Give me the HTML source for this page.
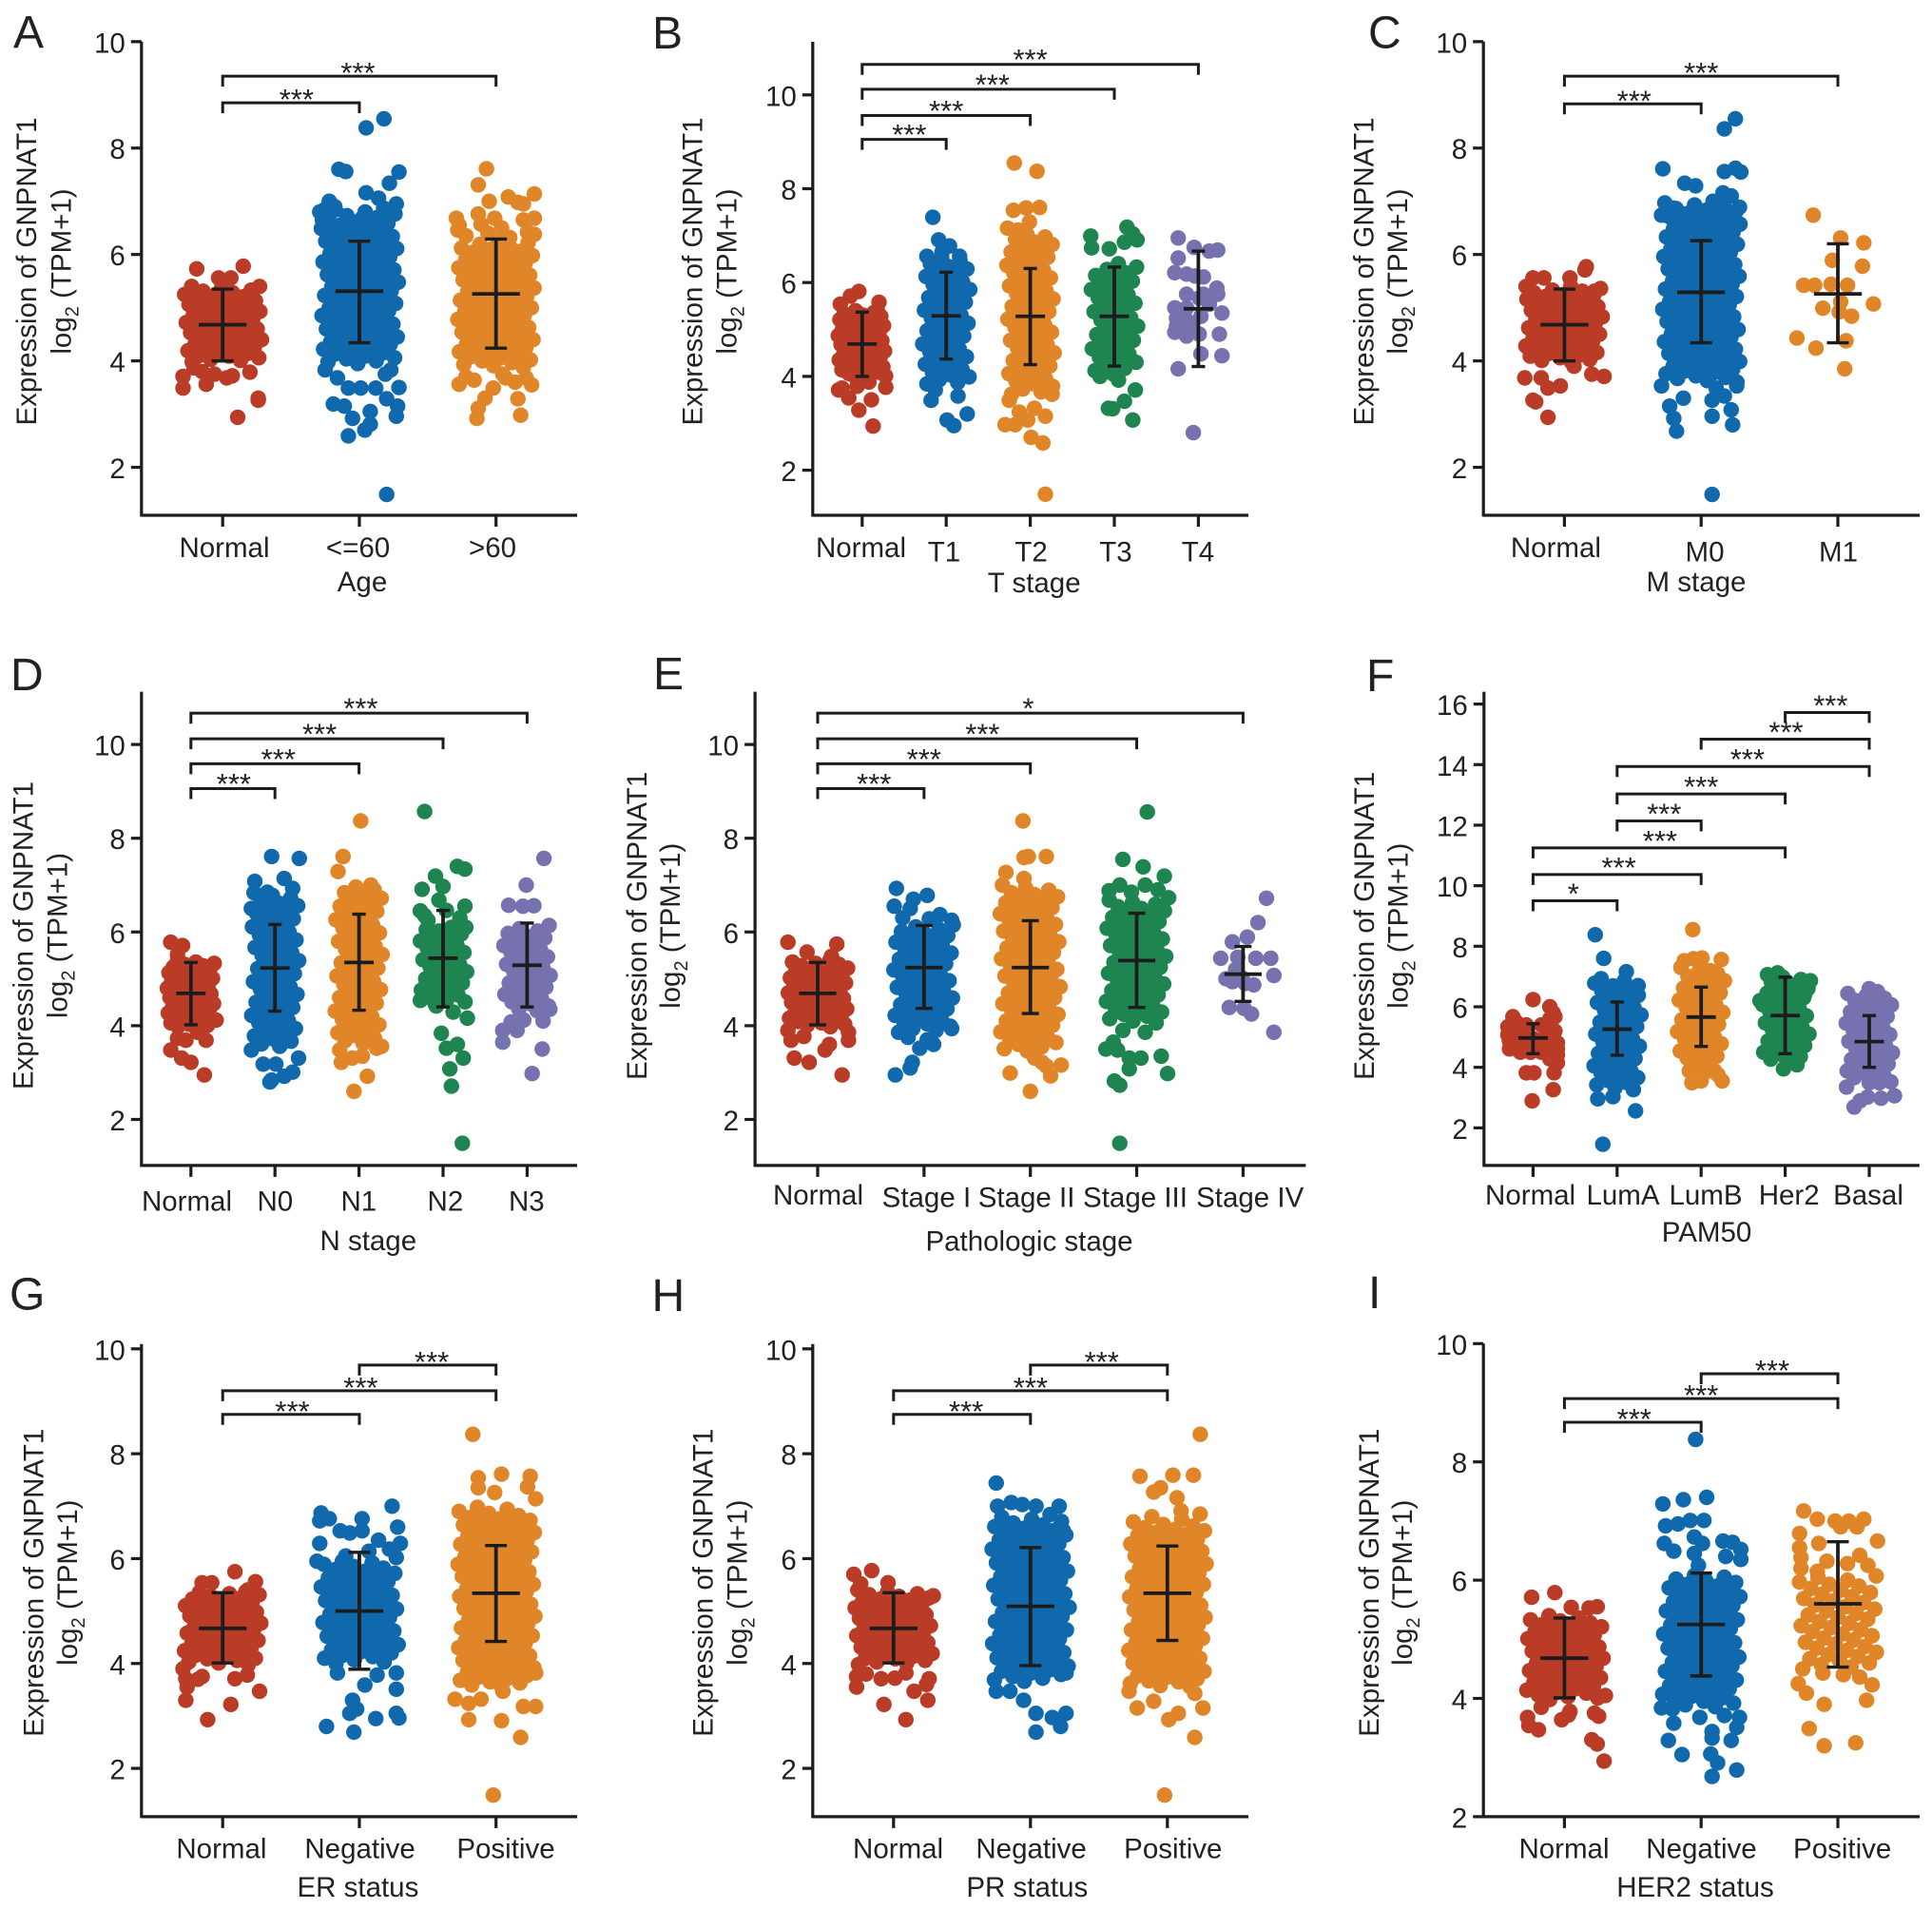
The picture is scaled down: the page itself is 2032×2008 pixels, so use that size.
<!DOCTYPE html>
<html lang="en">
<head>
<meta charset="utf-8">
<title>GNPNAT1 expression by clinical subgroup</title>
<style>
html,body{margin:0;padding:0;background:#fff}
svg{display:block}
text{font-family:"Liberation Sans",Arial,sans-serif;fill:#222}
</style>
</head>
<body>
<svg id="figure" xmlns="http://www.w3.org/2000/svg" width="2032" height="2008" viewBox="0 0 2032 2008"></svg>
<script>
// Plain numbers: samples (dense regions estimated); [value, offset]: individually located point, offset in category units.
const normalCore=[3.98,4.01,4.03,4.06,4.09,4.1,4.14,4.16,4.19,4.2,4.24,4.27,4.28,4.31,4.35,4.36,4.4,4.42,4.44,4.47,4.5,4.53,4.54,4.58,4.6,4.62,4.65,4.68,4.7,4.72,4.76,4.77,4.8,4.83,4.86,4.87,4.91,4.93,4.95,4.98,5.01,5.02,5.06,5.08,5.1,5.13,5.16,5.17,5.21,5.23,5.25,5.28,5.31,5.33,5.36,5.4];

const aCats=['Normal','<=60','>60'];
const aNormalExtra=[[5.73,-.19],[5.78,.15],[5.4,.27],[5.56,-.03],[5.56,.06],[5.5,0],[3.71,-.29],[3.49,-.29],[3.56,-.12],[3.68,.03],[3.72,.07],[3.79,.2],[3.26,.26],[3.3,.26],[2.94,.11],[3.75,-.06],[3.87,-.21],[3.8,-.15]];
const aYoung=[3.95,3.98,4,4.04,4.06,4.09,4.13,4.15,4.18,4.22,4.24,4.27,4.31,4.33,4.36,4.4,4.42,4.45,4.49,4.51,4.54,4.58,4.6,4.63,4.67,4.69,4.72,4.76,4.78,4.81,4.85,4.87,4.9,4.94,4.96,4.99,5.03,5.05,5.08,5.12,5.14,5.17,5.21,5.23,5.26,5.3,5.32,5.35,5.39,5.41,5.44,5.48,5.5,5.53,5.57,5.59,5.62,5.66,5.68,5.71,5.75,5.77,5.8,5.84,5.86,5.89,5.93,5.95,5.98,6.02,6.04,6.07,6.11,6.13,6.16,6.2,6.22,6.25,6.29,6.31,6.34,6.38,6.4,6.43,6.47,6.49,6.52,6.55,6.59,6.62,6.66,6.69,6.73,6.76,6.8,6.84,6.87,[8.38,.05],[8.55,.18],[7.6,-.15],[7.56,-.1],[7.55,.29],[7.34,.22],[7.16,.05],[7,-.22],[7.06,.14],[6.95,.27],[6.8,-.29],[6.68,.02],[6.68,.08],[6.85,-.25],[6.9,-.18],[6.65,-.27],[6.8,.25],[6.62,.18],[6.6,-.1],[3.83,-.25],[3.68,-.16],[3.49,-.08],[3.49,.01],[3.49,.12],[3.5,.29],[3.75,.19],[3.83,.23],[3.29,.2],[3.19,-.19],[3.15,-.11],[2.92,-.05],[3.05,.08],[3.15,.28],[2.96,.27],[2.59,-.08],[2.7,.04],[2.81,.08],[1.49,.2]];
const aOld=[3.88,3.91,3.93,3.97,4,4.02,4.06,4.08,4.11,4.14,4.17,4.2,4.22,4.26,4.28,4.31,4.35,4.37,4.4,4.43,4.45,4.49,4.51,4.54,4.57,4.6,4.63,4.65,4.69,4.71,4.74,4.78,4.8,4.83,4.86,4.89,4.92,4.94,4.98,5,5.03,5.06,5.09,5.12,5.14,5.18,5.2,5.23,5.27,5.29,5.32,5.35,5.37,5.41,5.43,5.46,5.49,5.52,5.55,5.57,5.61,5.63,5.66,5.7,5.72,5.75,5.78,5.81,5.84,5.86,5.9,5.92,5.95,5.98,6.01,6.04,6.06,6.1,6.12,6.15,6.19,6.22,6.25,[7.61,-.07],[7.31,-.13],[7,-.05],[7.08,.09],[7.14,.28],[6.95,.2],[6.98,.16],[6.68,.28],[6.65,.2],[6.68,-.29],[6.76,-.13],[6.68,-.01],[6.46,-.28],[6.57,-.11],[6.5,.04],[6.42,.23],[6.35,-.22],[6.32,.1],[6.55,-.27],[6.4,-.06],[6.38,.28],[3.56,-.27],[3.64,-.16],[3.49,-.02],[3.6,.14],[3.55,.26],[3.7,-.22],[3.75,.05],[3.68,.22],[3.3,-.08],[3.11,-.13],[2.92,-.14],[3.29,.16],[2.98,.18],[3.68,.07]];
const aMeans=[4.68,5.31,5.26];
const aLows=[4,4.34,4.24];
const aHighs=[5.35,6.25,6.29];
const aBrackets=[[0,1,8.85,'***',.54],[0,2,9.35,'***',.99]];

const bCats=['Normal','T1','T2','T3','T4'];
const bNormalExtra=[[5.81,-.04],[5.71,-.14],[5.58,.2],[5.54,-.26],[5.41,.18],[3.75,-.24],[3.77,.28],[3.88,.08],[3.54,-.16],[3.5,.11],[3.28,-.04],[2.94,.13],[3.79,-.06],[3.71,-.28]];
const bT1=[3.87,3.93,3.99,4.03,4.09,4.15,4.2,4.26,4.31,4.36,4.42,4.48,4.53,4.58,4.64,4.69,4.75,4.81,4.86,4.91,4.97,5.03,5.08,5.13,5.19,5.24,5.3,5.36,5.41,5.46,5.52,5.58,5.63,5.68,5.74,5.79,5.85,5.91,5.96,6.01,6.07,6.13,6.18,6.23,6.29,6.34,6.4,6.46,6.52,[7.39,-.16],[6.91,-.09],[6.78,.04],[6.56,-.23],[6.56,.16],[6.65,-.05],[3.49,-.18],[3.58,.14],[3.84,-.23],[3.71,-.13],[3.07,.01],[2.95,.09],[3.2,.25]];
const bT2=[3.62,3.67,3.73,3.79,3.84,3.9,3.95,4,4.06,4.12,4.17,4.22,4.28,4.34,4.39,4.45,4.5,4.55,4.61,4.67,4.72,4.77,4.83,4.89,4.94,5,5.05,5.1,5.16,5.22,5.27,5.32,5.38,5.44,5.49,5.55,5.6,5.65,5.71,5.77,5.82,5.87,5.93,5.99,6.04,6.1,6.15,6.2,6.26,6.32,6.37,6.42,6.48,6.54,6.59,6.65,6.7,6.75,6.81,6.87,6.92,6.97,7.03,[8.55,-.19],[8.37,.08],[7.54,-.2],[7.59,-.05],[7.6,.11],[7.29,-.01],[7.16,-.27],[7.12,-.15],[3.49,-.25],[3.62,.26],[3.24,-.13],[3.15,.18],[2.97,-.3],[2.97,-.18],[3.07,-.03],[2.7,.01],[2.58,.15],[1.49,.18],[3.32,.05]];
const bT3=[4.05,4.12,4.17,4.23,4.3,4.35,4.41,4.48,4.53,4.59,4.66,4.71,4.77,4.84,4.89,4.95,5.02,5.07,5.13,5.2,5.25,5.31,5.38,5.43,5.49,5.56,5.61,5.67,5.74,5.79,5.85,5.92,5.97,6.03,6.1,6.15,6.21,6.28,6.33,6.4,[6.99,-.28],[7.18,.15],[6.91,.27],[6.86,.12],[6.72,-.06],[6.74,-.27],[7.04,.22],[3.92,.05],[3.71,.25],[3.47,.12],[3.32,-.07],[3.31,-.02],[3.07,.22],[4,-.17]];
const bT4=[[6.95,-.24],[6.75,-.05],[6.69,.23],[6.67,.13],[6.52,-.24],[6.21,-.28],[6.18,-.14],[6.14,-.04],[6.12,.06],[5.88,.22],[5.75,-.14],[5.75,.23],[5.67,.01],[5.46,-.28],[5.46,-.14],[5.54,.13],[5.35,.28],[5.24,-.26],[5.2,-.14],[5.28,.03],[4.94,-.28],[4.86,-.14],[4.9,.01],[4.9,.25],[4.48,.03],[4.44,.28],[4.16,-.24],[2.8,-.06],[5.32,-.21],[5.07,-.26],[5.07,-.09],[5.75,.06]];
const bMeans=[4.69,5.29,5.28,5.28,5.44];
const bLows=[4,4.37,4.25,4.22,4.21];
const bHighs=[5.37,6.22,6.3,6.33,6.67];
const bBrackets=[[0,1,9.05,'***',.56],[0,2,9.56,'***',1],[0,3,10.12,'***',1.55],[0,4,10.65,'***',2]];

const cCats=['Normal','M0','M1'];
const cNormalExtra=[[5.77,.16],[5.71,.15],[5.56,.04],[5.56,-.15],[5.56,-.23],[5.4,-.28],[5.31,.22],[3.68,-.29],[3.71,.29],[3.75,.2],[3.9,.07],[3.49,-.12],[3.53,-.03],[3.68,-.17],[3.26,-.23],[3.23,-.21],[2.94,-.12]];
const cM0=[3.6,3.63,3.67,3.69,3.72,3.76,3.78,3.81,3.84,3.87,3.9,3.93,3.96,3.99,4.01,4.05,4.07,4.1,4.14,4.16,4.19,4.22,4.25,4.28,4.3,4.34,4.36,4.39,4.43,4.45,4.48,4.51,4.54,4.57,4.59,4.63,4.65,4.68,4.72,4.74,4.77,4.8,4.83,4.86,4.88,4.92,4.94,4.97,5.01,5.03,5.06,5.09,5.12,5.15,5.17,5.21,5.23,5.26,5.3,5.32,5.35,5.38,5.41,5.44,5.46,5.5,5.52,5.55,5.59,5.61,5.64,5.67,5.7,5.73,5.75,5.79,5.81,5.84,5.88,5.9,5.93,5.96,5.99,6.02,6.04,6.08,6.1,6.13,6.17,6.19,6.22,6.25,6.28,6.31,6.33,6.37,6.39,6.42,6.46,6.48,6.51,6.54,6.57,6.6,6.62,6.66,6.68,6.71,6.75,6.77,6.8,6.83,6.86,6.9,6.93,6.97,7,[8.55,.25],[8.36,.17],[7.61,-.28],[7.56,.17],[7.62,.25],[7.55,.29],[7.34,-.12],[7.29,-.04],[7.16,.16],[7.1,.22],[6.74,-.29],[6.89,.28],[6.87,-.2],[3.53,-.29],[3.15,-.23],[2.92,-.2],[2.68,-.18],[3.3,-.13],[3.26,.08],[2.96,.08],[3.08,.22],[2.8,.23],[3.53,.26],[1.49,.08],[3.34,.17],[3.49,.11]];
const cM1=[[6.74,-.18],[6.31,.02],[6.22,.19],[5.89,-.04],[5.78,.18],[5.42,-.25],[5.42,-.17],[5.44,-.05],[5.42,.07],[4.99,-.11],[5.11,.02],[5.07,.26],[4.92,.01],[4.84,.1],[4.43,-.3],[4.24,-.16],[4.38,.06],[3.85,.05]];
const cMeans=[4.68,5.29,5.26];
const cLows=[4,4.34,4.34];
const cHighs=[5.35,6.26,6.2];
const cBrackets=[[0,1,8.83,'***',.51],[0,2,9.35,'***',1]];

const dCats=['Normal','N0','N1','N2','N3'];
const dNormalExtra=[[5.78,-.24],[5.71,-.1],[5.52,-.16],[3.48,-.24],[3.31,-.11],[3.22,0],[2.95,.16],[3.69,.18],[3.86,.08],[4.12,.3],[3.73,-.16],[3.69,-.06]];
const dN0=[3.56,3.61,3.67,3.72,3.78,3.83,3.89,3.94,4,4.06,4.11,4.17,4.22,4.28,4.33,4.39,4.44,4.5,4.56,4.61,4.67,4.72,4.78,4.83,4.89,4.94,5,5.06,5.11,5.17,5.22,5.28,5.33,5.39,5.44,5.5,5.56,5.61,5.67,5.72,5.78,5.83,5.89,5.94,6,6.06,6.11,6.17,6.22,6.28,6.33,6.39,6.44,6.5,6.56,6.61,6.67,6.72,6.78,6.84,[7.61,-.04],[7.57,.29],[7.08,-.24],[7.14,.11],[6.93,.21],[6.85,-.09],[6.5,-.28],[3.48,-.28],[3.18,-.14],[3.18,.01],[3.31,.28],[2.84,-.04],[2.8,-.06],[2.92,.11],[3.01,.21]];
const dN1=[3.56,3.62,3.68,3.73,3.79,3.85,3.91,3.96,4.02,4.08,4.14,4.19,4.25,4.31,4.37,4.42,4.48,4.54,4.6,4.65,4.71,4.77,4.83,4.88,4.94,5,5.06,5.11,5.17,5.23,5.29,5.34,5.4,5.46,5.52,5.57,5.63,5.69,5.75,5.8,5.86,5.92,5.98,6.03,6.09,6.15,6.21,6.26,6.32,6.38,6.44,6.49,6.55,6.61,6.67,6.72,6.78,6.84,6.9,6.96,[8.37,.02],[7.61,-.19],[7.29,-.25],[7,.14],[3.22,-.21],[3.31,-.08],[3.35,.04],[3.52,.21],[2.92,.1],[2.6,-.06],[3.48,-.23]];
const dN2=[4.46,4.51,4.55,4.61,4.66,4.7,4.76,4.81,4.85,4.91,4.96,5,5.06,5.11,5.15,5.21,5.26,5.3,5.36,5.41,5.45,5.51,5.56,5.6,5.66,5.71,5.75,5.81,5.86,5.9,5.96,[8.57,-.22],[7.4,.17],[7.34,.26],[7.19,-.09],[6.91,-.25],[6.97,0],[6.68,-.05],[6.55,.26],[6.45,-.27],[6.46,.04],[6.25,-.18],[6.1,.1],[6.3,.2],[6.35,-.22],[6.05,-.2],[6.1,.27],[6.02,-.05],[4.29,.12],[4.16,.29],[3.84,-.02],[3.6,.17],[3.52,.04],[3.31,.24],[3.08,.08],[2.71,.1],[1.49,.23],[4.54,-.27],[4.42,-.08]];
const dN3=[4.32,4.36,4.42,4.47,4.51,4.57,4.62,4.67,4.71,4.77,4.82,4.87,4.91,4.97,5.02,5.07,5.11,5.17,5.22,5.27,5.31,5.37,5.42,5.47,5.51,5.57,5.62,5.67,5.71,5.77,5.82,5.87,5.91,5.97,6.02,6.07,6.14,[7.57,.2],[7,-.01],[6.57,-.22],[6.56,.08],[6.55,-.05],[3.65,-.29],[3.9,-.12],[4.08,-.19],[4.12,-.04],[4.1,.19],[4.35,.27],[3.5,.18],[2.98,.06],[3.9,-.29]];
const dMeans=[4.69,5.23,5.35,5.44,5.29];
const dLows=[4.02,4.31,4.33,4.4,4.4];
const dHighs=[5.35,6.16,6.38,6.46,6.19];
const dBrackets=[[0,1,9.06,'***',.51],[0,2,9.59,'***',1.04],[0,3,10.12,'***',1.53],[0,4,10.67,'***',2.02]];

const eCats=['Normal','Stage I','Stage II','Stage III','Stage IV'];
const eNormalExtra=[[5.78,-.28],[5.74,.18],[5.57,-.1],[5.48,.13],[3.9,-.28],[3.69,-.25],[3.77,-.13],[3.86,.29],[3.69,.29],[3.6,.11],[3.48,.07],[3.31,-.22],[3.22,-.08],[2.95,.23]];
const eStage1=[3.86,3.9,3.94,3.99,4.04,4.08,4.13,4.17,4.22,4.27,4.31,4.36,4.4,4.45,4.5,4.54,4.59,4.63,4.68,4.73,4.77,4.82,4.86,4.91,4.96,5,5.05,5.09,5.14,5.19,5.23,5.28,5.32,5.37,5.42,5.46,5.51,5.55,5.6,5.65,5.69,5.74,5.78,5.83,5.88,5.92,5.97,6.01,6.06,6.11,6.15,[6.93,-.26],[6.78,.03],[6.7,-.1],[6.55,-.28],[6.5,-.13],[6.37,.15],[6.25,.26],[6.3,-.2],[6.28,.05],[2.95,-.27],[3.1,-.13],[3.22,-.11],[3.52,-.04],[3.6,.09],[3.94,.26],[3.7,.03],[3.75,-.15]];
const eStage2=[3.46,3.51,3.55,3.6,3.64,3.69,3.74,3.78,3.83,3.87,3.92,3.96,4.01,4.06,4.1,4.15,4.19,4.24,4.28,4.33,4.38,4.42,4.47,4.51,4.56,4.6,4.65,4.7,4.74,4.79,4.83,4.88,4.92,4.97,5.02,5.06,5.11,5.15,5.2,5.24,5.29,5.34,5.38,5.43,5.47,5.52,5.56,5.61,5.66,5.7,5.75,5.79,5.84,5.88,5.93,5.98,6.02,6.07,6.11,6.16,6.2,6.25,6.3,6.34,6.39,6.43,6.48,6.52,6.57,6.62,6.66,6.71,6.75,6.8,6.84,6.89,6.94,7,[8.37,-.07],[7.59,-.06],[7.61,-.02],[7.61,.15],[7.27,-.23],[7.14,-.06],[2.99,-.19],[3.16,.29],[2.93,.19],[2.6,0],[3.22,.11],[3.31,.04],[3.14,.15]];
const eStage3=[4.06,4.1,4.15,4.2,4.24,4.29,4.33,4.38,4.43,4.47,4.52,4.56,4.61,4.66,4.7,4.75,4.79,4.84,4.89,4.93,4.98,5.02,5.07,5.12,5.16,5.21,5.25,5.3,5.35,5.39,5.44,5.48,5.53,5.58,5.62,5.67,5.71,5.76,5.81,5.85,5.9,5.94,5.99,6.04,6.08,6.13,6.17,6.22,6.27,6.31,6.36,6.4,6.45,6.5,6.54,6.59,6.63,6.68,[8.56,.1],[7.55,-.13],[7.39,.06],[7.19,.26],[6.88,-.26],[6.73,.3],[7,-.16],[7,.08],[6.85,-.05],[6.9,.2],[3.9,-.13],[3.86,.08],[3.65,-.22],[3.5,-.29],[3.48,-.18],[3.31,-.07],[3.31,.04],[3.35,.23],[3.08,-.07],[2.98,.29],[2.82,-.21],[2.73,-.16],[1.49,-.16]];
const eStage4=[[6.72,.22],[6.2,.14],[5.89,.04],[5.79,-.1],[5.44,-.21],[5.46,-.05],[5.44,.12],[5.44,.26],[5.07,.29],[5.2,-.07],[4.94,-.1],[4.87,.1],[5.02,-.01],[4.39,-.13],[4.37,.01],[4.25,.08],[3.86,.29],[5,-.16],[4.9,.02]];
const eMeans=[4.69,5.24,5.24,5.39,5.1];
const eLows=[4.02,4.37,4.26,4.39,4.52];
const eHighs=[5.35,6.14,6.24,6.4,5.69];
const eBrackets=[[0,1,9.06,'***',.53],[0,2,9.59,'***',1],[0,3,10.12,'***',1.55],[0,4,10.67,'*',1.98]];

const fCats=['Normal','LumA','LumB','Her2','Basal'];
const fNormal=[[6.24,0],[6,.2],[5.67,-.24],[5.67,.26],[5.34,-.3],[5.2,-.12],[5.4,.1],[5.2,.26],[4.88,-.28],[5.01,-.15],[4.94,.01],[5.01,.15],[4.81,.29],[4.61,-.28],[4.68,-.1],[4.68,.06],[4.41,.29],[4.15,.29],[3.82,-.08],[3.82,.01],[3.82,.25],[3.26,.24],[2.89,-.01],[5.6,.2],[4.68,.2],[4.68,-.21],[4.61,.29],[4.28,.2],[5.14,-.21],[4.68,-.03],[5.2,.2],[4.88,.22],[5.4,-.08],[5.07,-.3],[5.5,-.2],[5.8,.24],[4.5,-.03],[4.5,.1],[4.5,-.15]];
const fLumA=[3.26,3.33,3.42,3.5,3.57,3.66,3.74,3.81,3.9,3.98,4.05,4.14,4.22,4.29,4.38,4.46,4.53,4.62,4.7,4.77,4.86,4.94,5.01,5.1,5.18,5.25,5.34,5.42,5.49,5.58,5.66,5.73,5.82,5.9,5.97,6.06,6.14,6.21,6.3,6.38,6.45,6.54,6.62,6.69,6.78,6.85,[8.38,-.26],[7.6,-.16],[7.16,.11],[6.7,.25],[6.93,-.19],[2.96,-.23],[3.03,-.05],[2.56,.22],[1.46,-.17]];
const fLumB=[4.3,4.37,4.46,4.54,4.61,4.7,4.78,4.85,4.94,5.02,5.09,5.18,5.26,5.33,5.42,5.5,5.57,5.66,5.74,5.81,5.9,5.98,6.05,6.14,6.22,6.29,6.38,6.46,6.53,6.62,6.7,6.77,6.86,6.94,7.01,7.1,7.18,7.3,[8.55,-.1],[7.52,-.2],[7.61,.01],[7.56,.24],[7.59,-.09],[7.19,.11],[3.49,-.11],[3.55,0],[3.55,.25],[3.88,.16],[3.88,-.14],[4.02,-.05],[4.15,.09],[3.75,.2],[3.88,.09]];
const fHer2=[4.2,4.27,4.35,4.42,4.5,4.57,4.65,4.72,4.8,4.87,4.95,5.02,5.1,5.17,5.25,5.32,5.4,5.47,5.55,5.62,5.7,5.77,5.85,5.92,6,6.07,6.15,6.22,6.3,6.37,6.45,6.52,6.6,6.67,6.75,6.82,6.9,6.98,[7.06,-.21],[6.86,.3],[7.12,-.09],[6.6,.27],[6.2,-.3],[3.95,-.02],[4.08,.14],[6.4,.23]];
const fBasal=[3.52,3.58,3.66,3.73,3.81,3.88,3.96,4.03,4.11,4.18,4.26,4.33,4.41,4.48,4.56,4.63,4.71,4.78,4.86,4.93,5.01,5.08,5.16,5.23,5.31,5.38,5.46,5.53,5.61,5.68,5.76,5.83,5.91,5.98,6.06,6.13,6.21,6.28,6.36,6.44,6.5,[6.6,0],[3.35,-.27],[2.89,-.11],[2.69,-.18],[3.06,.3],[2.98,.14],[3.02,-.02],[3.49,0],[3.49,.12]];
const fMeans=[4.97,5.26,5.66,5.71,4.85];
const fLows=[4.45,4.4,4.69,4.45,4];
const fHighs=[5.44,6.16,6.65,6.98,5.71];
const fBrackets=[[0,1,9.5,'*',.48],[0,2,10.37,'***',1.02],[0,3,11.25,'***',1.51],[1,2,12.14,'***',1.56],[1,3,13.03,'***',2],[1,4,13.94,'***',2.55],[2,4,14.84,'***',3.01],[3,4,15.72,'***',3.54]];

const gCats=['Normal','Negative','Positive'];
const gNormalExtra=[[5.75,.09],[5.56,.24],[5.54,-.15],[5.54,-.08],[5.37,.17],[3.9,-.29],[3.71,-.27],[3.55,-.26],[3.3,-.27],[3.75,-.15],[3.71,.09],[3.78,.18],[3.47,.27],[3.22,.06],[2.93,-.11],[3.7,-.18]];
const gNegative=[4,4.03,4.07,4.1,4.13,4.16,4.2,4.23,4.26,4.29,4.33,4.36,4.39,4.42,4.46,4.49,4.52,4.55,4.59,4.62,4.65,4.68,4.72,4.75,4.78,4.81,4.85,4.88,4.91,4.94,4.98,5.01,5.04,5.07,5.11,5.14,5.17,5.2,5.24,5.27,5.3,5.33,5.37,5.4,5.43,5.46,5.5,5.53,5.56,5.59,5.63,5.66,5.69,5.72,5.76,5.79,5.82,5.85,5.89,5.92,5.95,[6.87,-.28],[6.76,-.22],[6.72,-.29],[7,.24],[6.76,.02],[6.53,.02],[6.6,.28],[6.53,-.14],[6.49,-.07],[6.29,-.29],[6.35,.14],[6.29,.3],[5.95,-.31],[6.18,.22],[6.02,.27],[6.14,.07],[6.05,-.1],[3.82,-.16],[3.59,.04],[3.78,.13],[3.82,.27],[3.51,.27],[3.3,-.05],[3.13,-.02],[3.05,-.07],[2.95,.12],[3.05,.27],[2.96,.29],[2.8,-.24],[2.69,-.04]];
const gPositive=[3.56,3.59,3.63,3.65,3.68,3.72,3.74,3.77,3.8,3.83,3.86,3.89,3.92,3.95,3.97,4.01,4.03,4.06,4.1,4.12,4.15,4.18,4.21,4.24,4.26,4.3,4.32,4.35,4.39,4.41,4.44,4.47,4.5,4.53,4.55,4.59,4.61,4.64,4.68,4.7,4.73,4.76,4.79,4.82,4.84,4.88,4.9,4.93,4.97,4.99,5.02,5.05,5.08,5.11,5.13,5.17,5.19,5.22,5.26,5.28,5.31,5.34,5.37,5.4,5.42,5.46,5.48,5.51,5.55,5.57,5.6,5.63,5.66,5.69,5.71,5.75,5.77,5.8,5.84,5.86,5.89,5.92,5.95,5.98,6,6.04,6.06,6.09,6.13,6.15,6.18,6.21,6.24,6.27,6.29,6.33,6.35,6.38,6.42,6.44,6.47,6.5,6.53,6.56,6.58,6.62,6.64,6.67,6.71,6.73,6.76,6.79,6.82,6.86,6.9,6.94,6.98,[8.37,-.17],[7.54,-.13],[7.61,.04],[7.57,.25],[7.35,-.13],[7.37,.23],[7.26,-.01],[7.14,.29],[3.32,-.3],[3.24,-.2],[2.93,-.2],[3.32,-.11],[2.91,.04],[3.18,.2],[3.18,.29],[2.59,.18],[1.49,-.02],[3.47,.05],[3.82,.29]];
const gMeans=[4.67,5,5.34];
const gLows=[4.01,3.89,4.42];
const gHighs=[5.35,6.12,6.25];
const gBrackets=[[0,1,8.75,'***',.51],[0,2,9.2,'***',1.01],[1,2,9.69,'***',1.53]];

const hCats=['Normal','Negative','Positive'];
const hNormalExtra=[[5.7,-.29],[5.77,-.16],[5.52,-.24],[5.54,-.04],[5.29,.29],[3.75,-.27],[3.55,-.27],[3.71,-.09],[3.82,.09],[3.47,.15],[3.71,.26],[3.6,.24],[3.22,-.07],[3.3,.25],[2.93,.09],[3.8,-.2],[3.72,.01]];
const hNegative=[3.66,3.69,3.72,3.75,3.79,3.82,3.85,3.88,3.92,3.95,3.98,4.01,4.05,4.08,4.11,4.15,4.18,4.21,4.24,4.28,4.31,4.34,4.38,4.41,4.44,4.47,4.51,4.54,4.57,4.61,4.64,4.67,4.7,4.74,4.77,4.8,4.84,4.87,4.9,4.93,4.97,5,5.03,5.07,5.1,5.13,5.16,5.2,5.23,5.26,5.3,5.33,5.36,5.39,5.43,5.46,5.49,5.53,5.56,5.59,5.62,5.66,5.69,5.72,5.76,5.79,5.82,5.85,5.89,5.92,5.95,5.99,6.02,6.05,6.08,6.12,6.15,6.18,6.22,6.25,6.28,6.31,6.35,6.38,6.41,6.45,6.48,6.51,6.54,6.58,6.61,6.64,6.68,6.71,6.75,6.79,6.84,[7.44,-.25],[7,-.24],[7.07,-.14],[7,.04],[7,.21],[7.03,-.06],[6.53,.24],[3.47,-.25],[3.47,-.15],[3.3,-.05],[3.05,.04],[3.82,.26],[2.69,.04],[2.97,.16],[2.93,.21],[3.05,.26],[2.8,.22]];
const hPositive=[3.56,3.58,3.62,3.65,3.67,3.71,3.74,3.76,3.8,3.83,3.85,3.89,3.92,3.94,3.98,4.01,4.03,4.07,4.1,4.12,4.16,4.19,4.21,4.25,4.28,4.3,4.34,4.37,4.39,4.43,4.46,4.48,4.52,4.55,4.57,4.61,4.64,4.66,4.7,4.73,4.75,4.79,4.82,4.84,4.88,4.91,4.93,4.97,5,5.02,5.06,5.09,5.11,5.15,5.18,5.2,5.24,5.27,5.29,5.33,5.36,5.38,5.42,5.45,5.47,5.51,5.54,5.56,5.6,5.63,5.65,5.69,5.72,5.74,5.78,5.81,5.83,5.87,5.9,5.92,5.96,5.99,6.01,6.05,6.08,6.1,6.14,6.17,6.19,6.23,6.26,6.28,6.32,6.35,6.37,6.41,6.44,6.46,6.5,6.53,6.55,6.59,6.62,6.65,6.7,6.75,6.8,6.85,[8.37,.24],[7.57,-.2],[7.59,.04],[7.59,.19],[7.35,-.05],[7.27,-.1],[7.16,.07],[6.91,.1],[3.47,-.28],[3.15,-.22],[3.28,-.1],[3.15,.26],[3.05,.08],[2.93,.01],[3.43,.2],[2.59,.2],[1.49,-.02]];
const hMeans=[4.67,5.09,5.34];
const hLows=[4.01,3.96,4.44];
const hHighs=[5.35,6.21,6.24];
const hBrackets=[[0,1,8.75,'***',.53],[0,2,9.2,'***',1],[1,2,9.69,'***',1.52]];

const iCats=['Normal','Negative','Positive'];
const iNormalExtra=[[5.71,-.24],[5.79,-.07],[5.54,.05],[5.55,.24],[5.53,.18],[3.68,-.27],[3.54,-.26],[3.47,-.19],[3.85,-.17],[3.64,-.02],[3.78,.04],[3.7,.25],[4.05,.3],[3.3,.2],[3.23,.24],[2.94,.29],[3.72,.03],[3.75,.22]];
const iNegative=[3.86,3.89,3.92,3.95,3.98,4.01,4.04,4.07,4.1,4.13,4.16,4.19,4.22,4.25,4.28,4.31,4.34,4.37,4.4,4.43,4.46,4.49,4.52,4.55,4.58,4.61,4.64,4.67,4.7,4.73,4.76,4.79,4.82,4.85,4.88,4.91,4.94,4.97,5,5.03,5.06,5.09,5.12,5.15,5.18,5.21,5.24,5.27,5.3,5.33,5.36,5.39,5.42,5.45,5.48,5.51,5.54,5.57,5.6,5.63,5.66,5.69,5.72,5.75,5.78,5.81,5.84,5.87,5.9,5.93,5.96,5.99,6.02,6.05,6.08,[8.38,-.04],[7.29,-.28],[7.36,-.13],[7.4,.04],[6.92,-.26],[6.95,-.17],[7.01,-.08],[7.01,.02],[6.73,-.05],[6.62,.01],[6.66,.16],[6.64,.23],[6.52,.29],[6.62,-.27],[6.49,-.2],[6.45,-.05],[6.35,.29],[6.4,.18],[6.25,-.02],[3.84,-.29],[3.82,-.21],[3.58,-.2],[3.29,-.24],[3.05,-.14],[3.44,.08],[3.33,.08],[3.29,.22],[3.06,.07],[2.91,.12],[2.68,.08],[2.79,.26],[3.51,.26],[3.68,.28],[3.68,-.01],[3.71,.17]];
const iPositive=[4.5,4.53,4.57,4.6,4.64,4.67,4.71,4.74,4.78,4.81,4.85,4.88,4.92,4.95,4.99,5.02,5.06,5.09,5.13,5.16,5.2,5.23,5.27,5.3,5.34,5.37,5.41,5.44,5.48,5.51,5.55,5.58,5.62,5.65,5.69,5.72,5.76,5.79,5.83,5.86,5.9,5.93,5.97,6,6.05,[7.17,-.25],[7.03,-.15],[7,-.02],[7,.08],[7.03,.19],[6.9,.02],[6.9,.14],[6.79,-.28],[6.62,-.14],[6.66,.29],[6.38,-.27],[6.32,-.08],[6.42,.16],[6.28,.07],[6.25,.22],[6.07,.28],[6.55,-.28],[6.2,-.27],[6.15,-.15],[4.25,-.29],[4.09,-.23],[3.9,-.1],[3.97,.21],[3.49,-.21],[3.2,-.1],[3.25,.13],[4.23,.25],[4.36,.16],[4.4,.04],[4.43,-.11]];
const iMeans=[4.68,5.25,5.6];
const iLows=[4.01,4.38,4.53];
const iHighs=[5.36,6.12,6.65];
const iBrackets=[[0,1,8.67,'***',.51],[0,2,9.07,'***',1],[1,2,9.49,'***',1.52]];

const ticksTo10=[2,4,6,8,10];
const ticksTo16=[2,4,6,8,10,12,14,16];
const palette=['#BA3C27','#1069AC','#E08628','#1F8550','#7672B0'];

const layouts=[
 {letter:'A',lx:14,ly:50,ax:148.8,right:607,bottom:542,top:43.8,ref:43.8,unit:55.97,c0:234.2,step:143.75,t1:38,t2:74.6,tc:285.5,lbx:[236,376.5,518],lby:[586,586,586],title:'Age',tx:381,ty:622,phase:.11,starDy:7,cats:aCats,ticks:ticksTo10,series:[normalCore.concat(aNormalExtra),aYoung,aOld],means:aMeans,lows:aLows,highs:aHighs,brackets:aBrackets},
 {letter:'B',lx:686,ly:51,ax:854.8,right:1313,bottom:542,top:44,ref:99.8,unit:49.35,c0:906.8,step:88.4,t1:738.5,t2:774.5,tc:285.5,lbx:[905.5,993,1084.6,1173.5,1260],lby:[586,590.5,590.5,590.5,590.5],title:'T stage',tx:1087.7,ty:623,phase:.37,starDy:5.5,cats:bCats,ticks:ticksTo10,series:[normalCore.concat(bNormalExtra),bT1,bT2,bT3,bT4],means:bMeans,lows:bLows,highs:bHighs,brackets:bBrackets},
 {letter:'C',lx:1439,ly:50.5,ax:1560.2,right:2019,bottom:542,top:43.8,ref:43.8,unit:55.97,c0:1645.4,step:143.8,t1:1444.4,t2:1480,tc:285.5,lbx:[1636.4,1793,1933.5],lby:[586,590.5,590.5],title:'M stage',tx:1784,ty:622,phase:.59,starDy:7,cats:cCats,ticks:ticksTo10,series:[normalCore.concat(cNormalExtra),cM0,cM1],means:cMeans,lows:cLows,highs:cHighs,brackets:cBrackets},
 {letter:'D',lx:11,ly:726,ax:148.8,right:607,bottom:1225.9,top:727.6,ref:783.1,unit:49.3,c0:200.8,step:88.4,t1:34.7,t2:70.7,tc:984,lbx:[196.5,289.3,377.3,468.4,553.8],lby:[1273.5,1273.5,1273.5,1273.5,1273.5],title:'N stage',tx:387.3,ty:1315,phase:.23,starDy:5.5,cats:dCats,ticks:ticksTo10,series:[normalCore.concat(dNormalExtra),dN0,dN1,dN2,dN3],means:dMeans,lows:dLows,highs:dHighs,brackets:dBrackets},
 {letter:'E',lx:687,ly:725,ax:794.1,right:1373.4,bottom:1225.9,top:727.6,ref:783.1,unit:49.3,c0:860,step:111.85,t1:680.2,t2:715,tc:973.8,lbx:[860.5,974.4,1079.6,1194,1314.7],lby:[1267,1269.3,1269.3,1269.3,1269.3],title:'Pathologic stage',tx:1082.5,ty:1315.6,phase:.71,starDy:5.5,cats:eCats,ticks:ticksTo10,series:[normalCore.concat(eNormalExtra),eStage1,eStage2,eStage3,eStage4],means:eMeans,lows:eLows,highs:eHighs,brackets:eBrackets},
 {letter:'F',lx:1437,ly:727,ax:1560.8,right:2018.8,bottom:1225.9,top:727.6,ref:740.6,unit:31.84,c0:1612.4,step:88.4,t1:1445,t2:1480.6,tc:973.8,lbx:[1609.6,1707,1794,1881.7,1965],lby:[1267,1267,1267,1267,1267],title:'PAM50',tx:1795,ty:1306,phase:.47,starDy:3,cats:fCats,ticks:ticksTo16,series:[fNormal,fLumA,fLumB,fHer2,fBasal],means:fMeans,lows:fLows,highs:fHighs,brackets:fBrackets},
 {letter:'G',lx:10,ly:1377.5,ax:148.8,right:607,bottom:1910.9,top:1413.7,ref:1418.8,unit:55.16,c0:234.2,step:143.75,t1:45.5,t2:81,tc:1664.7,lbx:[232.9,378.6,532],lby:[1954.7,1954.7,1954.7],title:'ER status',tx:376.4,ty:1994.8,phase:.83,starDy:7,cats:gCats,ticks:ticksTo10,series:[normalCore.concat(gNormalExtra),gNegative,gPositive],means:gMeans,lows:gLows,highs:gHighs,brackets:gBrackets},
 {letter:'H',lx:685.5,ly:1379,ax:854.8,right:1313,bottom:1910.9,top:1413.7,ref:1418.8,unit:55.16,c0:939.8,step:144,t1:749.4,t2:785.4,tc:1664.7,lbx:[944.6,1084.6,1233.8],lby:[1954.7,1954.7,1954.7],title:'PR status',tx:1080.3,ty:1994.8,phase:.05,starDy:7,cats:hCats,ticks:ticksTo10,series:[normalCore.concat(hNormalExtra),hNegative,hPositive],means:hMeans,lows:hLows,highs:hHighs,brackets:hBrackets},
 {letter:'I',lx:1439,ly:1376,ax:1560.2,right:2019,bottom:1910.9,top:1413.3,ref:1413.3,unit:62.2,c0:1645.4,step:143.8,t1:1450,t2:1485,tc:1664.7,lbx:[1645,1789.5,1937.7],lby:[1954.7,1954.7,1954.7],title:'HER2 status',tx:1783,ty:1994.8,phase:.31,starDy:7,cats:iCats,ticks:ticksTo10,series:[normalCore.concat(iNormalExtra),iNegative,iPositive],means:iMeans,lows:iLows,highs:iHighs,brackets:iBrackets}
];

const SVGNS='http://www.w3.org/2000/svg';
const figure=document.getElementById('figure');
const INK='#1c1c1c';
function make(tag,attrs,parent,content){
  const node=document.createElementNS(SVGNS,tag);
  for(const k in attrs){node.setAttribute(k,attrs[k]);}
  if(content!==undefined){node.textContent=content;}
  parent.appendChild(node);
  return node;
}
function line(x1,y1,x2,y2,parent,width){
  return make('line',{x1:x1,y1:y1,x2:x2,y2:y2,stroke:INK,'stroke-width':width},parent);
}

function drawPanel(p){
  const yRefValue=p.ticks===ticksTo16?16:10;
  const yScale=v=>p.ref+(yRefValue-v)*p.unit;
  const xScale=c=>p.c0+c*p.step;

  const panel=make('g',{},figure);
  
  

  const letter=make('text',{x:p.lx,y:p.ly,'font-size':48,fill:'#111'},panel,p.letter);
  
  

  p.series.forEach(function(values,gi){
    const group=make('g',{fill:palette[gi]},panel);
    
    
    const cx=xScale(gi);
    const half=0.285*p.step;
    let n=0;
    values.forEach(function(entry){
      let value,px;
      if(Array.isArray(entry)){
        value=entry[0];
        px=cx+entry[1]*p.step;
      }else{
        value=entry;
        const f=(n*0.6180339887+p.phase+gi*0.37)%1;
        px=cx+half*(2*f-1);
        n++;
      }
      const dot=make('circle',{cx:px.toFixed(1),cy:yScale(value).toFixed(1),r:8.2},group);
      
      
    });
  });

  p.means.forEach(function(mean,gi){
    const cx=xScale(gi);
    const meanHalf=0.175*p.step;
    const capHalf=0.08*p.step;
    const bar=make('g',{},panel);
    
    
    line(cx,yScale(p.lows[gi]),cx,yScale(p.highs[gi]),bar,3.8);
    line(cx-capHalf,yScale(p.lows[gi]),cx+capHalf,yScale(p.lows[gi]),bar,3.4);
    line(cx-capHalf,yScale(p.highs[gi]),cx+capHalf,yScale(p.highs[gi]),bar,3.4);
    line(cx-meanHalf,yScale(mean),cx+meanHalf,yScale(mean),bar,3.8);
  });

  const yAxis=line(p.ax,p.top,p.ax,p.bottom+1.5,panel,3.2);
  
  
  const xAxis=line(p.ax,p.bottom,p.right,p.bottom,panel,3.2);
  
  

  p.ticks.forEach(function(t){
    const ty=yScale(t);
    const mark=line(p.ax-11,ty,p.ax,ty,panel,3.2);
    
    
    const label=make('text',{x:p.ax-17,y:ty+11.5,'font-size':29.5,'text-anchor':'end'},panel,String(t));
    
    
  });

  p.cats.forEach(function(cat,gi){
    const cx=xScale(gi);
    const mark=line(cx,p.bottom,cx,p.bottom+12,panel,3.2);
    
    
    const label=make('text',{x:p.lbx[gi],y:p.lby[gi],'font-size':29.5,'text-anchor':'middle'},panel,cat);
    
    
  });

  const xTitle=make('text',{x:p.tx,y:p.ty,'font-size':29.5,'text-anchor':'middle'},panel,p.title);
  
  

  const yTitle=make('text',{transform:'translate('+p.t1+' '+p.tc+') rotate(-90)','font-size':29.5,'text-anchor':'middle'},panel,'Expression of GNPNAT1');
  
  

  const yUnit=make('text',{transform:'translate('+p.t2+' '+p.tc+') rotate(-90)','font-size':29.5,'text-anchor':'middle'},panel);
  
  
  make('tspan',{},yUnit,'log');
  make('tspan',{dy:8,'font-size':20},yUnit,'2');
  make('tspan',{dy:-8},yUnit,' (TPM+1)');

  p.brackets.forEach(function(b){
    const by=yScale(b[2]);
    const x1=xScale(b[0]);
    const x2=xScale(b[1]);
    const bracket=make('path',{d:'M'+x1+' '+(by+11)+'V'+by+'H'+x2+'V'+(by+11),fill:'none',stroke:INK,'stroke-width':3},panel);
    
    
    const stars=make('text',{x:xScale(b[4]),y:by+p.starDy,'font-size':31,'text-anchor':'middle'},panel,b[3]);
    
    
  });
}
layouts.forEach(drawPanel);
</script>
</body>
</html>
